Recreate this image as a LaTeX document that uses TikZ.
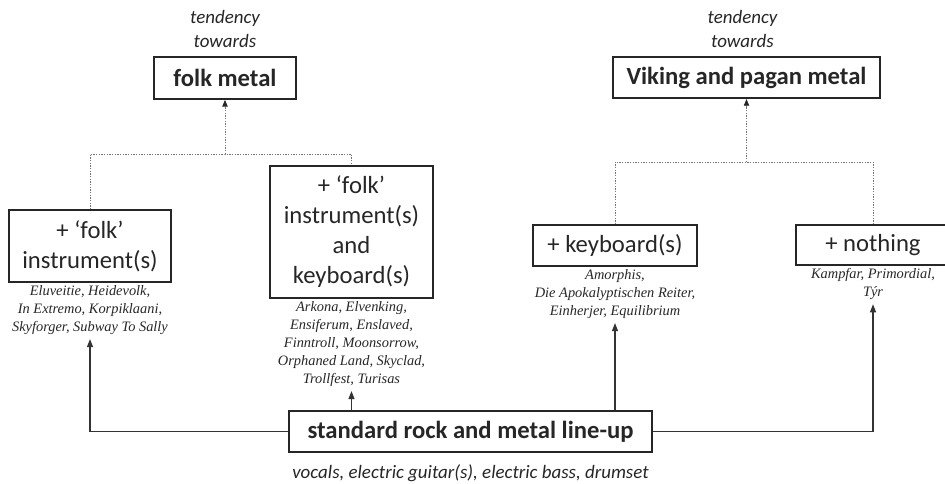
\documentclass[tikz,border=0pt]{standalone}
\usepackage{fontspec}
\setmainfont{Carlito}
\newfontfamily\bandfont{Liberation Serif}
\usetikzlibrary{positioning,arrows.meta}

\begin{document}
\begin{tikzpicture}[x=0.75pt,y=-0.75pt,
    genre/.style={draw=black!85,line width=1.3pt,inner sep=0pt,text=black!85,font=\fontsize{18.5}{22.5}\selectfont\bfseries},
    addbox/.style={draw=black!85,line width=1.2pt,inner sep=0pt,align=center,text=black!85,font=\fontsize{18.5}{22.5}\selectfont},
    tendency/.style={inner sep=0pt,align=center,text=black!85,font=\fontsize{14.2}{18}\selectfont\itshape},
    bands/.style={inner sep=0pt,align=center,text=black!85,font=\bandfont\itshape\fontsize{10.8}{13.5}\selectfont},
    feed/.style={draw=black!80,line width=0.8pt,-{Triangle[length=6pt,width=4.5pt]},shorten >=3pt},
    tendline/.style={draw=black!55,line width=0.6pt,dash pattern=on 1pt off 1pt},
    tendarrow/.style={tendline,-{Triangle[length=5pt,width=4pt,black!85]}}]
  \useasboundingbox (0,0) rectangle (945,483);
  \node[genre,minimum width=106.5pt,minimum height=31.5pt] (folkmetal) at (225,78) {folk metal};
  \node[tendency,above=6pt of folkmetal] (folktend) {tendency\\towards};
  \node[genre,minimum width=200pt,minimum height=31pt] (vikingmetal) at (746.5,77.5) {Viking and pagan metal};
  \node[tendency,above=6pt of vikingmetal,xshift=-3pt] (vikingtend) {tendency\\towards};
  \node[addbox,minimum width=121.5pt,minimum height=54pt] (folkinst) at (90,246) {+ ‘folk’\\instrument(s)};
  \node[addbox,minimum width=122pt,minimum height=99pt] (folkkeys) at (351.5,232) {+ ‘folk’\\instrument(s)\\and\\keyboard(s)};
  \node[addbox,minimum width=123pt,minimum height=30.75pt] (keys) at (615,245.5) {+ keyboard(s)};
  \node[addbox,minimum width=115.5pt,minimum height=30pt] (nothing) at (873,245) {+ nothing};
  \node[genre,minimum width=272pt,minimum height=30.75pt] (lineup) at (470.5,431.5) {standard rock and metal line-up};
  \node[tendency,below=9pt of lineup] (lineupinstr) {vocals, electric guitar(s), electric bass, drumset};
  \node[bands,below=2pt of folkinst] (folkinstbands) {Eluveitie, Heidevolk,\\In Extremo, Korpiklaani,\\Skyforger, Subway To Sally};
  \node[bands,below=2pt of folkkeys] (folkkeysbands) {Arkona, Elvenking,\\Ensiferum, Enslaved,\\Finntroll, Moonsorrow,\\Orphaned Land, Skyclad,\\Trollfest, Turisas};
  \node[bands,below=2pt of keys] (keysbands) {Amorphis,\\Die Apokalyptischen Reiter,\\Einherjer, Equilibrium};
  \node[bands,below=2pt of nothing] (nothingbands) {Kampfar, Primordial,\\Týr};
  \draw[feed] (lineup.west) -| (folkinstbands.south);
  \draw[feed] (lineup.north -| folkkeysbands.south) -- (folkkeysbands.south);
  \draw[feed] (lineup.north -| keysbands.south) -- (keysbands.south);
  \draw[feed] (lineup.east) -| (nothingbands.south);
  \coordinate (folkjoin) at (225,154);
  \draw[tendline] (folkinst.north) |- (folkjoin) -| (folkkeys.north);
  \draw[tendarrow] (folkjoin) -- (folkmetal.south);
  \coordinate (vikingjoin) at (746.5,162);
  \draw[tendline] (keys.north) |- (vikingjoin) -| (nothing.north);
  \draw[tendarrow] (vikingjoin) -- (vikingmetal.south);
\end{tikzpicture}
\end{document}
